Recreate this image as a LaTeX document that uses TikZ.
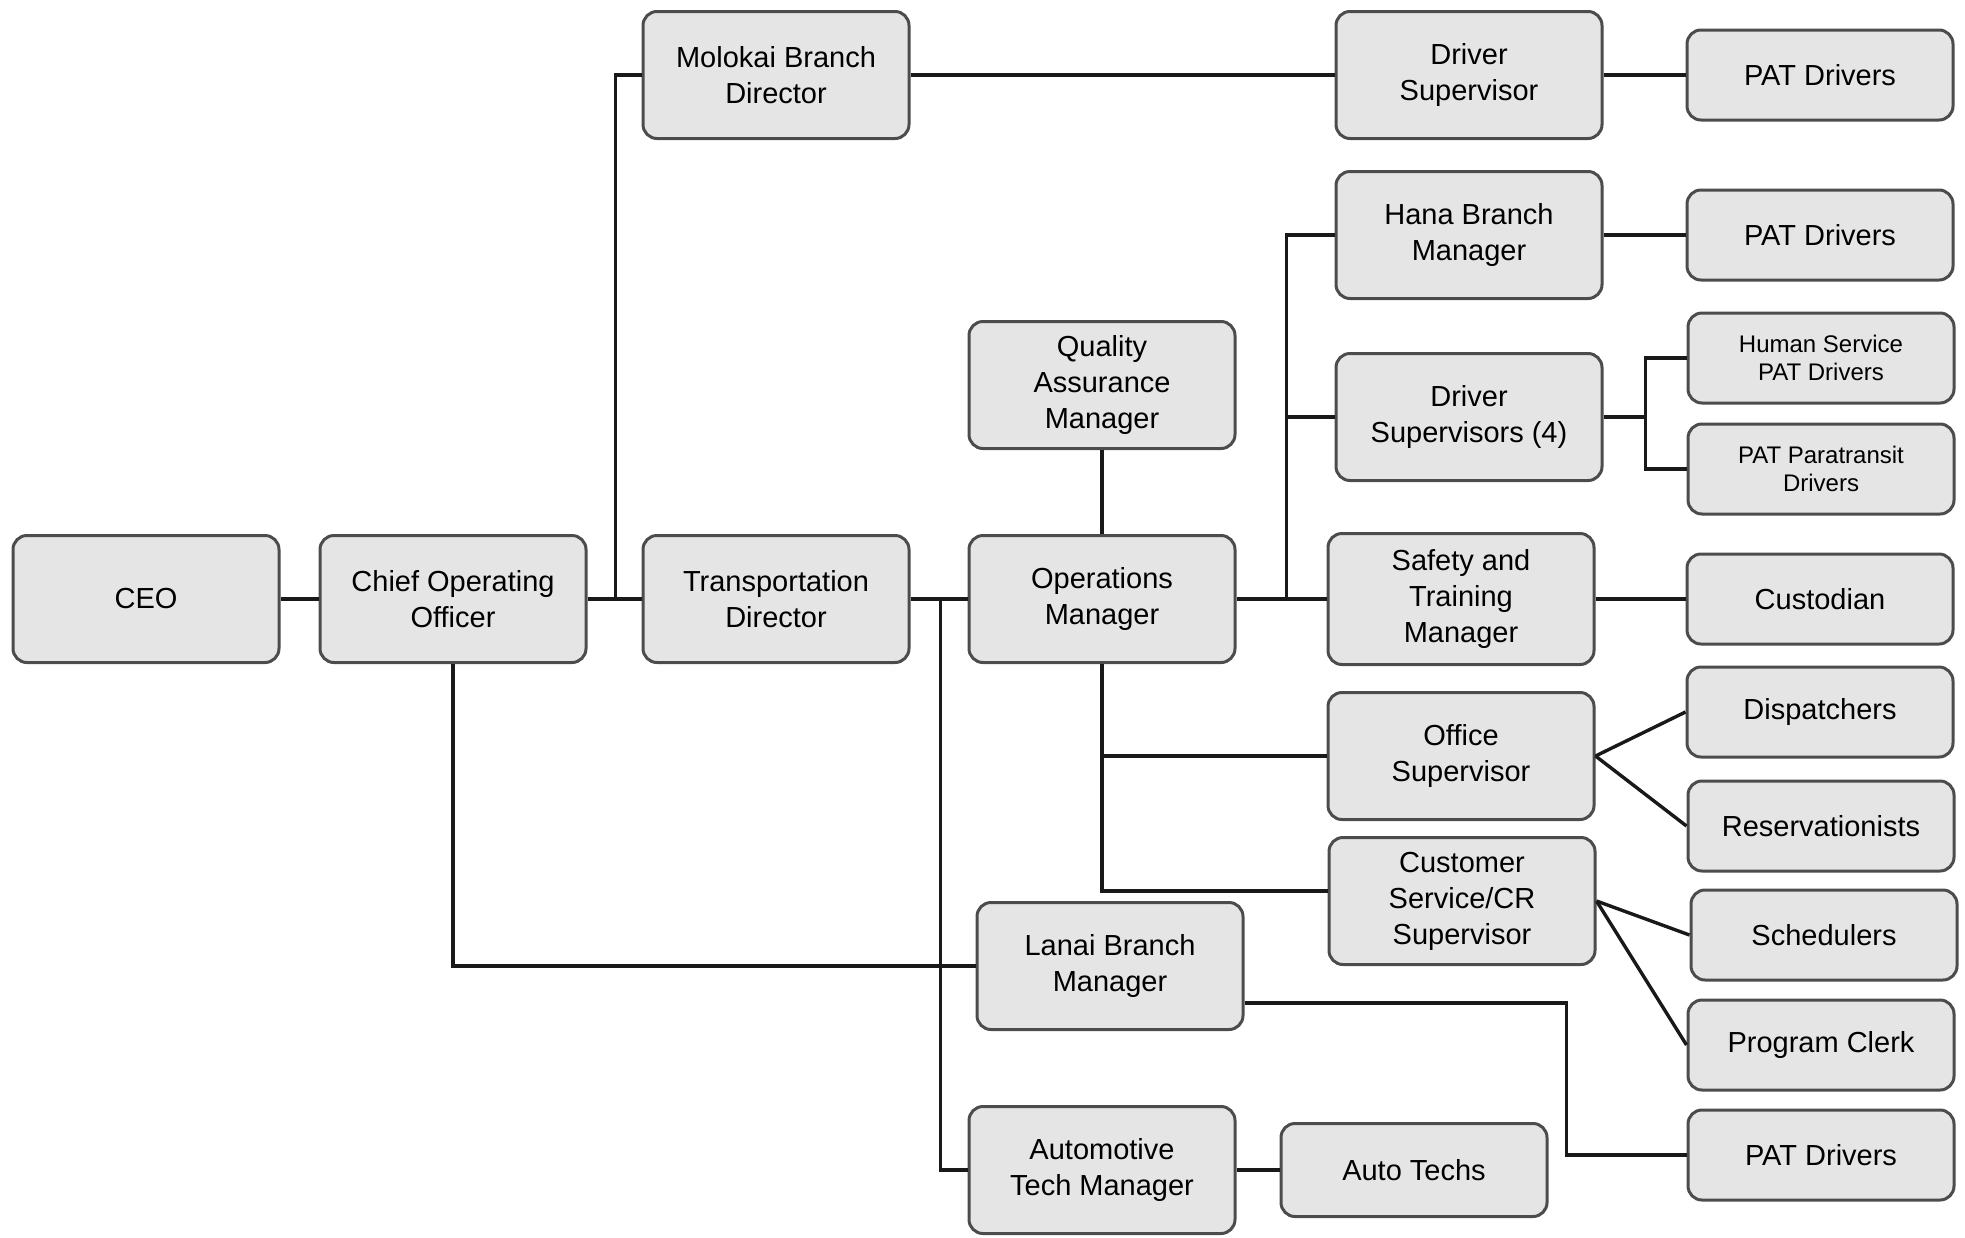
\documentclass[tikz,border=0pt]{standalone}
\usepackage{fontspec}
\setmainfont{Liberation Sans}

\begin{document}
\begin{tikzpicture}

\tikzset{%
every node/.style={font=\fontsize{14.5}{18}\selectfont},%
every path/.style={line width=1.7pt}%
}

\tikzstyle{box}=[draw=black!70, fill=black!10, text=black, rounded corners=7pt, align=center, minimum width=133pt, minimum height=63.5pt, line width=1.5pt]
\tikzstyle{leaf}=[box, minimum height=45pt]
\tikzstyle{tiny}=[leaf, font=\fontsize{12}{14}\selectfont]
\tikzstyle{line}=[black!90]

\useasboundingbox (0,0) rectangle (982.5pt,-618.5pt);

\node[box] (ceo) at (73pt,-299.5pt) {CEO};
\node[box, right of=ceo, node distance=153.5pt] (coo) {Chief Operating\\Officer};
\node[box, right of=coo, node distance=161.5pt] (td) {Transportation\\Director};
\node[box, above of=td, node distance=262pt] (mol) {Molokai Branch\\Director};
\draw[line] (ceo) -- (coo);
\draw[line] (coo) -- (td);
\coordinate (jcoo) at ([xshift=14pt]coo.east);
\draw[line] (jcoo) |- (mol);

\node[box, right of=td, node distance=163pt] (ops) {Operations\\Manager};
\node[box, above of=ops, node distance=107pt] (qa) {Quality\\Assurance\\Manager};
\draw[line] (td) -- (ops);
\draw[line] (qa) -- (ops);

\node[box, right of=ops, node distance=179.5pt, minimum height=65.5pt] (safe) {Safety and\\Training\\Manager};
\node[leaf, right of=safe, node distance=179.5pt] (cust) {Custodian};
\draw[line] (ops) -- (safe);
\draw[line] (safe) -- (cust);

\node[box, above of=safe, node distance=91pt, xshift=4pt] (ds4) {Driver\\Supervisors (4)};
\node[box, above of=ds4, node distance=91pt] (hana) {Hana Branch\\Manager};
\node[box, above of=hana, node distance=80pt] (ds) {Driver\\Supervisor};
\coordinate (jops) at ([xshift=25pt]ops.east);
\draw[line] (jops) |- (hana);
\draw[line] (jops) |- (ds4);
\draw[line] (mol) -- (ds);

\node[leaf, right of=ds, node distance=175.5pt] (pat1) {PAT Drivers};
\node[leaf, right of=hana, node distance=175.5pt] (pat2) {PAT Drivers};
\draw[line] (ds) -- (pat1);
\draw[line] (hana) -- (pat2);

\node[tiny, right of=ds4, node distance=176pt, yshift=29.5pt] (hs) {Human Service\\PAT Drivers};
\node[tiny, below of=hs, node distance=55.5pt] (para) {PAT Paratransit\\Drivers};
\coordinate (jds) at ([xshift=21pt]ds4.east);
\draw[line] (ds4) -- (jds);
\draw[line] (hs) -| (jds) |- (para);

\node[box, below of=safe, node distance=78.5pt] (office) {Office\\Supervisor};
\node[leaf, right of=office, node distance=179.5pt, yshift=22pt] (disp) {Dispatchers};
\node[leaf, right of=office, node distance=180pt, yshift=-35pt] (res) {Reservationists};
\coordinate (jof) at (ops |- office);
\draw[line] (jof) -- (office);
\draw[line] (office.east) -- (disp.west);
\draw[line] (office.east) -- (res.west);

\node[box, below of=office, node distance=72.5pt, xshift=0.5pt] (cs) {Customer\\Service/CR\\Supervisor};
\node[leaf, right of=cs, node distance=181pt, yshift=-17pt] (sched) {Schedulers};
\node[leaf, right of=cs, node distance=179.5pt, yshift=-72pt] (clerk) {Program Clerk};
\node[leaf, below of=clerk, node distance=55pt] (pat3) {PAT Drivers};
\draw[line] (ops) |- ([yshift=5pt]cs.west);
\draw[line] (cs.east) -- (sched.west);
\draw[line] (cs.east) -- (clerk.west);

\node[box, below of=ops, node distance=183.5pt, xshift=4pt] (lanai) {Lanai Branch\\Manager};
\coordinate (jlan) at ([xshift=-60pt]pat3.west);
\draw[line] (coo) |- (lanai);
\draw[line] ([yshift=-18.5pt]lanai.east) -| (jlan) -- (pat3);

\node[box, below of=ops, node distance=285.5pt] (atm) {Automotive\\Tech Manager};
\node[leaf, right of=atm, node distance=156pt, minimum height=46.5pt] (techs) {Auto Techs};
\coordinate (jtd) at ([xshift=15pt]td.east);
\draw[line] (jtd) |- (atm);
\draw[line] (atm) -- (techs);

\end{tikzpicture}
\end{document}
